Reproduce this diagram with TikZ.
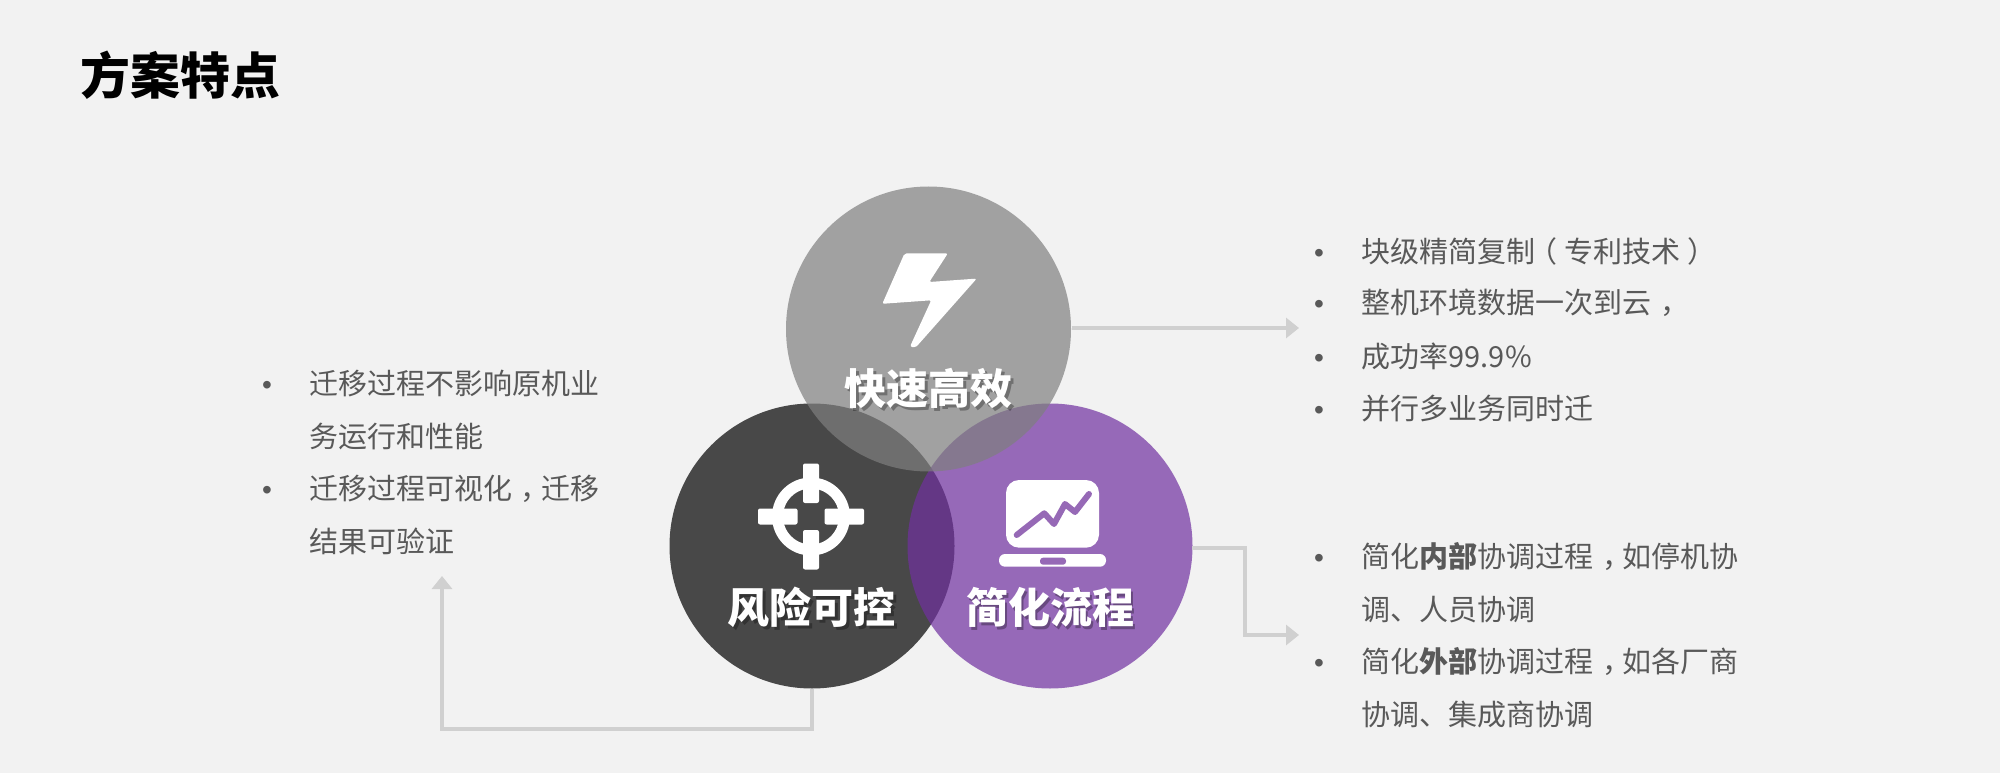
\documentclass[tikz,border=0pt]{standalone}
\usepackage{fontspec}
\setmainfont{Noto Sans CJK SC}
\newfontfamily\dotfont{Liberation Sans}
\usepackage{xcolor}
\usepackage{tikz}
\usetikzlibrary{shapes,positioning,arrows.meta}
\definecolor{pagebg}{HTML}{F2F2F2}
\definecolor{ringpurple}{HTML}{7030A0}
\definecolor{iconpurple}{HTML}{9669B6}
\definecolor{ringgray}{HTML}{7F7F7F}
\definecolor{linegray}{HTML}{D0D0D0}
\definecolor{bodygray}{HTML}{595959}
\newcommand{\shadowed}[1]{\leavevmode\rlap{\kern.025cm\raisebox{-.025cm}{\pgfsetfillopacity{0.3}\color{black}#1\pgfsetfillopacity{1}}}#1}
\newcommand{\midcomma}{\kern.3em，\kern-.3em}
\newcommand{\midopen}{\kern-.25em（\kern.25em}
\newcommand{\midclose}{\kern.25em）\kern-.25em}
\tikzset{ring/.style={circle,minimum size=2.85cm,inner sep=0,fill opacity=0.7},
    lbl/.style={inner sep=0,text=white,font=\fontsize{11.95}{14}\selectfont\bfseries},
    item/.style={anchor=base west,inner sep=0,text=bodygray,font=\fontsize{8.25}{10}\selectfont},
    dot/.style={anchor=base,inner sep=0,text=bodygray,font=\dotfont\fontsize{8}{9}\selectfont},
    conn/.style={draw=linegray,line width=0.04cm}}

\begin{document}
\begin{tikzpicture}[>={Triangle[length=0.13cm,width=0.2cm]}]
    \useasboundingbox (0,0) rectangle (20,7.73);
    \fill[pagebg] (0,0) rectangle (20,7.73);

    \node[anchor=base west,inner sep=0,font=\fontsize{14.2}{16}\selectfont\bfseries] (title)at (0.8,6.78) {方案特点};

    \node[ring,fill=black] (risk)at (8.12,2.27) {};
    \node[ring,fill=ringpurple] (flow)at (10.5,2.27) {};
    \node[ring,fill=ringgray] (fast)at (9.285,4.44) {};

    \coordinate (fastend) at (12.99,4.45);
    \coordinate (flowout) at (11.92,2.25);
    \coordinate (flowend) at (12.99,1.38);
    \coordinate (riskend) at (4.42,1.97);
    \draw [conn,->] (fast.east |- fastend) -- (fastend);
    \draw [conn,->] (flowout) -- ++(0.53,0) |- (flowend);
    \draw [conn,->] (risk.south) -- ++(0,-0.4) -| (riskend);

    % lightning bolt
    \fill[white,rounded corners=0.02cm,shift={(fast.center)}] (-0.24,0.756) -- (0.193,0.756) -- (0.008,0.47)
        -- (0.482,0.504) -- (-0.129,-0.186) -- (-0.185,-0.176) -- (0.027,0.287) -- (-0.462,0.252) -- cycle;

    % crosshair
    \begin{scope}[shift={(risk.center)}]
        \draw[white,line width=0.11cm] (-0.01,0.295) circle (0.335);
        \fill[white,rounded corners=0.02cm] (-0.09,0.825) rectangle (0.07,0.43);
        \fill[white,rounded corners=0.02cm] (-0.09,0.16) rectangle (0.07,-0.235);
        \fill[white,rounded corners=0.02cm] (-0.54,0.375) rectangle (-0.145,0.215);
        \fill[white,rounded corners=0.02cm] (0.125,0.375) rectangle (0.52,0.215);
    \end{scope}

    % laptop with chart
    \begin{scope}[shift={(flow.center)}]
        \fill[white,rounded corners=0.13cm] (-0.44,0.66) rectangle (0.49,-0.017);
        \fill[white,rounded corners=0.06cm] (-0.51,-0.08) rectangle (0.56,-0.207);
        \fill[iconpurple,rounded corners=0.03cm] (-0.10,-0.117) rectangle (0.16,-0.187);
        \draw[iconpurple,line width=0.06cm,line cap=round,line join=round] (-0.333,0.11) -- (-0.057,0.327)
            -- (0.04,0.22) -- (0.15,0.42) -- (0.25,0.34) -- (0.39,0.52);
    \end{scope}

    \node[lbl] (fastlbl)at (9.285,3.83) {\shadowed{快速高效}};
    \node[lbl] (risklbl)at (8.115,1.64) {\shadowed{风险可控}};
    \node[lbl] (flowlbl)at (10.5,1.64) {\shadowed{简化流程}};

    \node[dot] (d1)at (13.19,5.11) {•};
    \node[item] (t1)at (13.61,5.11) {块级精简复制\midopen 专利技术\midclose};
    \node[dot] (d2)at (13.19,4.59) {•};
    \node[item] (t2)at (13.61,4.59) {整机环境数据一次到云\midcomma};
    \node[dot] (d3)at (13.19,4.06) {•};
    \node[item] (t3)at (13.61,4.06) {成功率99.9\%};
    \node[dot] (d4)at (13.19,3.54) {•};
    \node[item] (t4)at (13.61,3.54) {并行多业务同时迁};

    \node[dot] (d5)at (13.19,2.06) {•};
    \node[item] (t5)at (13.61,2.06) {简化{\bfseries 内部}协调过程\midcomma 如停机协};
    \node[item] (t6)at (13.61,1.53) {调、人员协调};
    \node[dot] (d7)at (13.19,1.01) {•};
    \node[item] (t7)at (13.61,1.01) {简化{\bfseries 外部}协调过程\midcomma 如各厂商};
    \node[item] (t8)at (13.61,0.48) {协调、集成商协调};

    \node[dot] (d9)at (2.67,3.79) {•};
    \node[item] (t9)at (3.085,3.79) {迁移过程不影响原机业};
    \node[item] (t10)at (3.085,3.26) {务运行和性能};
    \node[dot] (d11)at (2.67,2.74) {•};
    \node[item] (t11)at (3.085,2.74) {迁移过程可视化\midcomma 迁移};
    \node[item] (t12)at (3.085,2.21) {结果可验证};
\end{tikzpicture}
\end{document}
